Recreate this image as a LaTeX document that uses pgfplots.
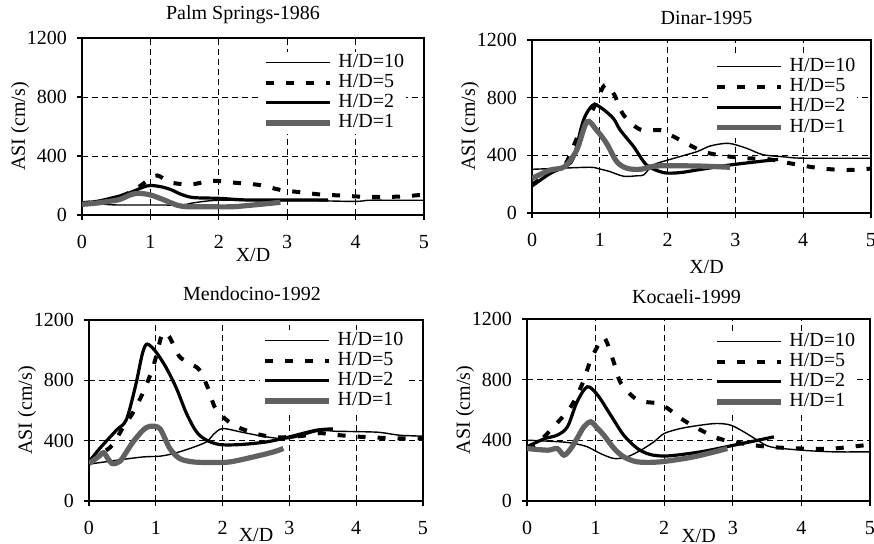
\documentclass[border=0pt]{standalone}
\usepackage{fontspec}
\setmainfont{Liberation Serif}
\usepackage{pgfplots}
\pgfplotsset{compat=1.18}

\newcommand{\chartfont}{\fontsize{10}{12}\selectfont}

\pgfplotsset{
  asi/.style={
    scale only axis,
    anchor=south west,
    xmin=0, xmax=5, ymin=0, ymax=1200,
    xtick={0,1,2,3,4,5}, ytick={0,400,800,1200},
    tick pos=left, tick align=outside,
    major tick length=2.5pt,
    grid=major,
    major grid style={black, line width=0.4pt, dash pattern=on 3pt off 2pt},
    axis line style={line width=0.6pt},
    every tick/.style={black, line width=0.6pt},
    /pgf/number format/assume math mode=true,
    /pgf/number format/1000 sep={},
    tick label style={font=\chartfont},
    label style={font=\chartfont},
    title style={font=\chartfont},
    xticklabel style={yshift=-4pt},
    yticklabel style={xshift=-1.5pt},
    xlabel={X/D}, ylabel={ASI (cm/s)},
    every axis y label/.style={at={(axis description cs:0,0.5)}, xshift=-31pt, rotate=90, anchor=center},
    every axis x label/.style={at={(axis description cs:0.5,0)}, anchor=center},
    every axis title/.style={at={(axis description cs:0.5,1)}, anchor=center},
    legend style={draw=none, fill=white, inner sep=1pt, row sep=1.3pt, column sep=3pt,
      anchor=north west, font=\chartfont, nodes={inner sep=0pt, text height=6.8pt, text depth=2pt}},
    legend cell align=left,
    legend image code/.code={\draw[##1] (0pt,0pt) -- (32pt,0pt);},
  },
  h10/.style={black, line width=0.7pt, smooth, tension=0.5},
  h5/.style={black, line width=2pt, dash pattern=on 4pt off 6pt, smooth, tension=0.5},
  h2/.style={black, line width=1.6pt, smooth, tension=0.5},
  h1/.style={black!62, line width=2.6pt, smooth, tension=0.5},
}

\begin{document}
\chartfont
\begin{tikzpicture}
\useasboundingbox (0,0) rectangle (437pt,272pt);

% Palm Springs-1986
\begin{axis}[asi, at={(41pt,164.5pt)}, width=171pt, height=88.5pt,
  title={Palm Springs-1986}, title style={yshift=11.5pt, xshift=-5pt},
  xlabel style={yshift=-20pt},
  legend style={at={(axis description cs:0.523,0.925)}}]
\addplot[h10] coordinates {(0,79) (0.25,75) (0.5,68) (1.0,68) (1.45,68) (1.6,80) (1.78,92) (2.0,100) (2.5,98) (3.0,97) (3.5,96) (4.0,92) (4.2,100) (4.5,100) (5.0,100)};
\addplot[h5] coordinates {(0,80) (0.3,95) (0.5,115) (0.75,165) (0.95,230) (1.1,268) (1.3,220) (1.6,208) (1.9,232) (2.2,220) (2.6,203) (2.9,170) (3.2,154) (3.5,138) (3.8,132) (4.1,124) (4.6,124) (5.0,138)};
\addplot[h2] coordinates {(0,79) (0.25,95) (0.46,118) (0.6,135) (0.75,160) (0.9,190) (1.0,200) (1.15,192) (1.3,172) (1.45,140) (1.63,118) (2.0,113) (2.4,102) (3.0,102) (3.6,102)};
\addplot[h1] coordinates {(0,72) (0.2,80) (0.36,90) (0.55,105) (0.7,135) (0.82,147) (1.0,136) (1.2,102) (1.4,65) (1.55,56) (1.8,56) (2.2,56) (2.6,72) (2.9,86)};
\legend{H/D=10,H/D=5,H/D=2,H/D=1}
\end{axis}

% Dinar-1995
\begin{axis}[asi, at={(266pt,165.5pt)}, width=169.5pt, height=86.5pt,
  title={Dinar-1995}, title style={yshift=11pt, xshift=2.5pt},
  xlabel style={yshift=-27pt, xshift=2.5pt},
  legend style={at={(axis description cs:0.531,0.91)}}]
\addplot[h10] coordinates {(0,303) (0.4,310) (0.86,317) (1.0,305) (1.15,287) (1.35,255) (1.55,258) (1.65,265) (1.79,333) (2.04,372) (2.43,425) (2.63,465) (2.9,483) (3.17,448) (3.4,405) (3.7,390) (4.0,380) (5.0,380)};
\addplot[h5] coordinates {(0,195) (0.3,290) (0.5,345) (0.7,560) (0.9,720) (1.05,875) (1.12,880) (1.22,815) (1.35,680) (1.59,580) (1.89,575) (2.0,552) (2.23,495) (2.53,425) (2.85,395) (3.17,380) (3.5,372) (3.8,345) (4.25,310) (4.64,298) (5.0,308)};
\addplot[h2] coordinates {(0,187) (0.27,275) (0.48,321) (0.61,380) (0.76,645) (0.9,749) (1.03,726) (1.2,656) (1.3,576) (1.5,460) (1.69,333) (1.94,280) (2.18,280) (2.43,298) (2.92,333) (3.63,372)};
\addplot[h1] coordinates {(0,240) (0.27,298) (0.48,321) (0.66,437) (0.81,633) (0.95,576) (1.1,483) (1.25,356) (1.4,310) (1.6,303) (1.84,326) (2.43,326) (2.92,317)};
\legend{H/D=10,H/D=5,H/D=2,H/D=1}
\end{axis}

% Mendocino-1992
\begin{axis}[asi, at={(44.5pt,21.5pt)}, width=167pt, height=90.5pt,
  title={Mendocino-1992}, title style={yshift=13pt, xshift=-2pt},
  xlabel style={yshift=-17pt},
  legend style={at={(axis description cs:0.512,0.949)}}]
\addplot[h10] coordinates {(0,244) (0.41,270) (0.81,292) (1.06,297) (1.26,314) (1.51,348) (1.76,392) (1.86,440) (2.0,480) (2.3,455) (2.66,425) (3.0,414) (3.45,465) (3.7,462) (4.0,460) (4.35,455) (4.65,436) (5.0,430)};
\addplot[h5] coordinates {(0,265) (0.2,320) (0.35,370) (0.5,480) (0.65,580) (0.8,710) (0.93,850) (1.0,950) (1.1,1110) (1.2,1090) (1.35,960) (1.5,915) (1.65,870) (1.78,750) (1.88,625) (2.0,560) (2.2,495) (2.55,440) (2.85,422) (3.2,432) (3.45,450) (3.65,440) (4.05,426) (4.6,415) (5.0,415)};
\addplot[h2] coordinates {(0,259) (0.16,348) (0.41,469) (0.56,540) (0.7,770) (0.8,978) (0.87,1040) (1.0,990) (1.16,880) (1.31,746) (1.46,580) (1.61,458) (1.76,403) (1.96,374) (2.26,374) (2.66,392) (3.0,425) (3.4,469) (3.65,478)};
\addplot[h1] coordinates {(0,248) (0.16,300) (0.22,320) (0.34,250) (0.46,262) (0.56,325) (0.66,392) (0.81,470) (0.91,495) (1.06,480) (1.21,348) (1.36,281) (1.56,259) (1.86,255) (2.11,259) (2.46,292) (2.76,325) (2.91,348)};
\legend{H/D=10,H/D=5,H/D=2,H/D=1}
\end{axis}

% Kocaeli-1999
\begin{axis}[asi, at={(263.5pt,21.5pt)}, width=171.5pt, height=91pt,
  title={Kocaeli-1999}, title style={yshift=11pt, xshift=-6pt},
  xlabel style={yshift=-17.5pt},
  legend style={at={(axis description cs:0.539,0.938)}}]
\addplot[h10] coordinates {(0,401) (0.49,390) (0.69,379) (0.88,357) (1.07,313) (1.27,280) (1.46,291) (1.66,335) (1.85,390) (2.0,445) (2.24,478) (2.53,500) (2.77,511) (2.97,500) (3.16,456) (3.36,401) (3.55,357) (4.0,335) (4.47,324) (5.0,324)};
\addplot[h5] coordinates {(0,350) (0.15,380) (0.39,490) (0.64,622) (0.81,776) (0.93,930) (1.1,1072) (1.17,1040) (1.27,908) (1.37,776) (1.61,666) (1.9,644) (2.05,611) (2.24,545) (2.53,468) (2.87,402) (3.45,360) (4.0,346) (4.47,346) (5.0,372)};
\addplot[h2] coordinates {(0,357) (0.25,410) (0.44,434) (0.59,489) (0.73,654) (0.88,753) (1.03,698) (1.22,566) (1.41,434) (1.61,346) (1.8,306) (2.05,297) (2.53,324) (3.02,368) (3.6,423)};
\addplot[h1] coordinates {(0,346) (0.3,335) (0.44,346) (0.54,302) (0.64,346) (0.73,412) (0.83,489) (0.93,522) (1.03,478) (1.12,434) (1.27,346) (1.41,291) (1.61,258) (1.94,258) (2.43,291) (2.92,346)};
\legend{H/D=10,H/D=5,H/D=2,H/D=1}
\end{axis}
\end{tikzpicture}
\end{document}
